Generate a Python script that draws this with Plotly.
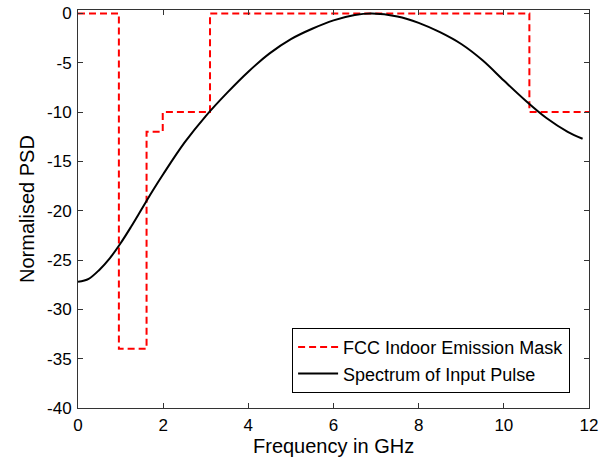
import plotly.graph_objects as go

# FCC indoor emission mask (step edges, GHz) and normalised level (dB)
mask_freq = [0, 0.96, 1.61, 1.99, 3.1, 10.6, 12]
mask_level = [0, -34, -12, -10, 0, -10, -10]

# Spectrum of input pulse
spec_freq = [0, 0.25, 0.5, 0.75, 1.0, 1.25, 1.5, 1.75, 2.0, 2.5, 3.0, 3.5, 4.0,
             4.5, 5.0, 5.5, 6.0, 6.5, 6.9, 7.5, 8.0, 8.5, 9.0, 9.5, 10.0, 10.5,
             11.0, 11.5, 11.85]
spec_level = [-27.2, -26.9, -26.0, -24.8, -23.3, -21.6, -19.8, -18.0, -16.3, -13.1,
              -10.4, -8.05, -5.9, -4.05, -2.6, -1.55, -0.7, -0.15, 0.0, -0.3, -0.95,
              -1.9, -3.1, -4.75, -6.8, -8.8, -10.6, -12.0, -12.7]

x_ticks = [0, 2, 4, 6, 8, 10, 12]
y_ticks = [0, -5, -10, -15, -20, -25, -30, -35, -40]
y_tick_labels = [str(v) for v in y_ticks]

FONT = "Liberation Sans, Arial, sans-serif"

fig = go.Figure()
fig.add_trace(go.Scatter(
    x=mask_freq, y=mask_level, mode="lines", line_shape="hv",
    name="FCC Indoor Emission Mask",
    line=dict(color="#ff0000", width=2, dash="7px,4px"),
))
fig.add_trace(go.Scatter(
    x=spec_freq, y=spec_level, mode="lines", line_shape="spline",
    name="Spectrum of Input Pulse",
    line=dict(color="black", width=2),
))

axis_common = dict(
    showgrid=False, zeroline=False, showline=True, linecolor="#333333",
    linewidth=1, mirror="ticks", ticks="inside", ticklen=5,
    tickcolor="#333333", automargin=False,
    tickfont=dict(family=FONT, size=17, color="black"),
)

fig.update_layout(
    width=605, height=462,
    margin=dict(l=78, r=16, t=10, b=54),
    paper_bgcolor="white", plot_bgcolor="white",
    font=dict(family=FONT, color="black"),
    xaxis=dict(range=[0, 12], tickvals=x_ticks, ticklabelstandoff=2, **axis_common),
    yaxis=dict(range=[-40, 0.35], tickvals=y_ticks, ticktext=y_tick_labels,
               ticklabelstandoff=2, **axis_common),
    legend=dict(
        x=0.963, y=0.038, xanchor="right", yanchor="bottom",
        bgcolor="white", bordercolor="black", borderwidth=1,
        font=dict(family=FONT, size=18, color="black"),
        tracegroupgap=0, itemwidth=40,
    ),
    showlegend=True,
    annotations=[
        dict(text="Frequency in GHz", xref="paper", yref="paper",
             x=0.5, y=0, yshift=-38, xanchor="center", yanchor="middle",
             showarrow=False, font=dict(family=FONT, size=20, color="black")),
        dict(text="Normalised PSD", xref="paper", yref="paper",
             x=0, y=0.5, xshift=-51, xanchor="center", yanchor="middle",
             textangle=-90, showarrow=False,
             font=dict(family=FONT, size=20, color="black")),
    ],
)

fig.write_html("out.html",
               config={"displayModeBar": False},
               post_script="document.body.style.margin='0px';")
